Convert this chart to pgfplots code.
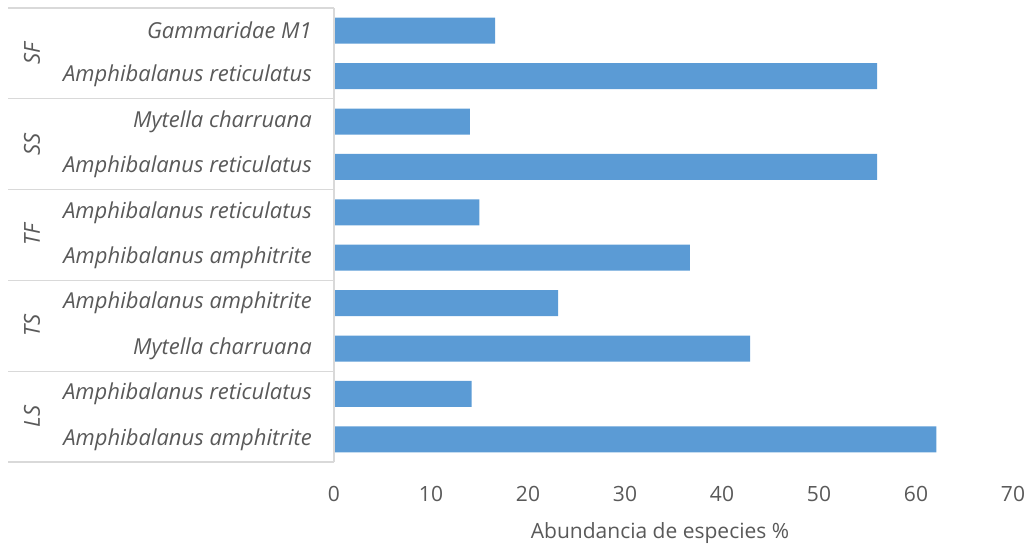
\documentclass[border=0pt]{standalone}
\usepackage{pgfplots}
\pgfplotsset{compat=1.18}
\usepackage{fontspec}
\setmainfont{Open Sans}
\definecolor{barblue}{HTML}{5B9BD5}
\definecolor{txtgray}{HTML}{595959}
\definecolor{linegray}{HTML}{D9D9D9}
\newcommand{\lblfont}{\fontsize{21bp}{25bp}\selectfont}
\newcommand{\catfont}{\fontsize{22bp}{26bp}\selectfont\itshape}
\tikzset{grp/.style={rotate=90, text=txtgray, font=\catfont, inner sep=0pt}}

\begin{document}
\begin{tikzpicture}
\begin{axis}[
  at={(0,0)}, anchor=south west,
  scale only axis,
  width=679bp, height=454bp,
  xmin=0, xmax=70,
  ymin=0.5, ymax=10.5,
  clip=false,
  xbar, bar width=26bp,
  axis lines*=left,
  x axis line style={draw=none},
  y axis line style={draw=none},
  xtick={0,10,...,70},
  ytick={1,...,10},
  major tick length=0pt,
  yticklabels={Amphibalanus amphitrite, Amphibalanus reticulatus,
               Mytella charruana, Amphibalanus amphitrite,
               Amphibalanus amphitrite, Amphibalanus reticulatus,
               Amphibalanus reticulatus, Mytella charruana,
               Amphibalanus reticulatus, Gammaridae M1},
  xticklabel style={font=\lblfont, text=txtgray, anchor=north, yshift=-21bp},
  yticklabel style={font=\catfont, text=txtgray, inner sep=0pt, anchor=east, xshift=-22bp},
  /pgf/number format/assume math mode=true,
]
\addplot[fill=barblue, draw=none] coordinates {
  (62.1,1) (14.2,2) (42.9,3) (23.1,4) (36.7,5)
  (15.0,6) (56.0,7) (14.0,8) (56.0,9) (16.6,10)
};
% group boundaries on the category axis
\coordinate (b0) at (axis cs:0,0.5);
\coordinate (b1) at (axis cs:0,2.5);
\coordinate (b2) at (axis cs:0,4.5);
\coordinate (b3) at (axis cs:0,6.5);
\coordinate (b4) at (axis cs:0,8.5);
\coordinate (b5) at (axis cs:0,10.5);
% group centres
\coordinate (g1) at (axis cs:0,1.5);
\coordinate (g2) at (axis cs:0,3.5);
\coordinate (g3) at (axis cs:0,5.5);
\coordinate (g4) at (axis cs:0,7.5);
\coordinate (g5) at (axis cs:0,9.5);
\end{axis}
% category axis line and group separators
\draw[linegray, line width=1.2bp] (b0) -- (b5);
\foreach \b in {b0,b1,b2,b3,b4,b5}{
  \draw[linegray, line width=1.2bp] (\b) -- ++(-326bp,0);
}
% group names
\node[grp] at ([xshift=-302bp]g1) {LS};
\node[grp] at ([xshift=-302bp]g2) {TS};
\node[grp] at ([xshift=-302bp]g3) {TF};
\node[grp] at ([xshift=-302bp]g4) {SS};
\node[grp] at ([xshift=-302bp]g5) {SF};
% axis title
\node[text=txtgray, font=\lblfont, anchor=base] at (326bp,-76bp) {Abundancia de especies \%};
\path[use as bounding box] (-334bp,-82bp) rectangle (695bp,462bp);
\end{tikzpicture}
\end{document}
